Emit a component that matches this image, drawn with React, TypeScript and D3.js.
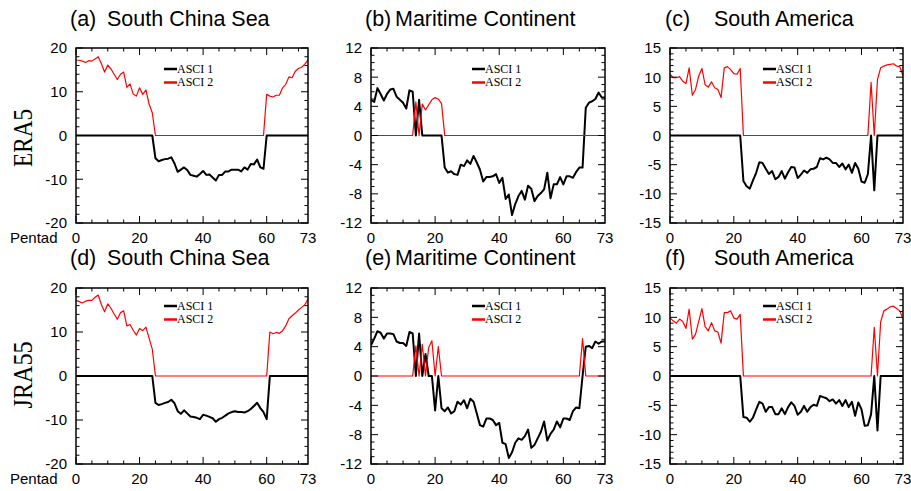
import React from 'react';
import * as d3 from 'd3';

const W = 911;
const H = 491;

// pentad index (x axis) and its labelled ticks
const pentads = d3.range(0, 74);
const xLabels = [0, 20, 40, 60, 73];
const xMajor = [0, 20, 40, 60];
const xMinor = [5, 10, 15, 25, 30, 35, 45, 50, 55, 65, 70];

// (a) ERA5 - South China Sea
const era5ScsAsci1 = [
  0, 0, 0, 0, 0, 0, 0, 0, 0, 0, 0, 0, 0, 0, 0, 0, 0, 0, 0, 0, 0, 0, 0, 0, 0,
  -5.2, -5.9, -5.6, -5.4, -5.3, -5.0, -6.4, -8.3, -7.8, -7.3, -7.9, -9.0, -9.2, -9.4, -8.8, -8.1, -9.0, -8.9,
  -9.6, -10.3, -9.0, -9.0, -8.2, -8.2, -7.8, -7.8, -7.8, -8.2, -7.3, -7.8, -6.5, -6.6, -5.5, -7.3, -7.6,
  0, 0, 0, 0, 0, 0, 0, 0, 0, 0, 0, 0, 0, 0,
];
const era5ScsAsci2 = [
  17.2, 17.2, 17.0, 16.7, 17.1, 17.0, 17.5, 18.0, 16.4, 14.5, 16.1, 15.2, 14.0, 12.8, 14.0, 14.5, 11.0,
  11.8, 9.5, 9.0, 10.9, 9.4, 10.4, 7.2, 5.2,
  0, 0, 0, 0, 0, 0, 0, 0, 0, 0, // 25-34
  0, 0, 0, 0, 0, 0, 0, 0, 0, 0, // 35-44
  0, 0, 0, 0, 0, 0, 0, 0, 0, 0, // 45-54
  0, 0, 0, 0, 0, // 55-59
  9.4, 9.0, 8.8, 9.2, 9.2, 10.9, 11.7, 13.4, 13.2, 14.7, 15.3, 15.6, 16.3, 17.3,
];

// (b) ERA5 - Maritime Continent
const era5McAsci1 = [
  4.9, 4.6, 6.5, 5.7, 4.8, 5.7, 6.3, 6.4, 5.3, 4.9, 4.5, 3.7, 6.2, 6.0,
  0, 4.9, 0, 0, 0, 0, 0, 0, 0,
  -4.4, -5.1, -4.9, -5.3, -5.4, -4.0, -4.2, -3.4, -3.9, -2.8, -3.7, -4.7, -6.3, -5.7, -5.7, -5.6, -5.3,
  -6.5, -5.8, -8.7, -8.1, -10.9, -9.4, -8.3, -7.6, -8.8, -6.9, -7.3, -9.0, -8.3, -7.9, -7.4, -5.1, -8.6,
  -6.7, -6.7, -5.7, -6.7, -5.6, -5.6, -5.8, -5.0, -4.4, -4.4, 3.8, 4.5, 4.7, 5.0, 5.9, 5.2, 5.2,
];
const era5McAsci2 = [
  0, 0, 0, 0, 0, 0, 0, 0, 0, 0, 0, 0, 0, 0, // 0-13
  4.6, 0, 4.3, 3.5, 4.2, 4.9, 5.2, 5.0, 4.4, // 14-22
  0, 0, 0, 0, 0, 0, 0, 0, 0, 0, // 23-32
  0, 0, 0, 0, 0, 0, 0, 0, 0, 0, // 33-42
  0, 0, 0, 0, 0, 0, 0, 0, 0, 0, // 43-52
  0, 0, 0, 0, 0, 0, 0, 0, 0, 0, // 53-62
  0, 0, 0, 0, 0, 0, 0, 0, 0, 0, 0, // 63-73
];

// (c) ERA5 - South America
const era5SaAsci1 = [
  0, 0, 0, 0, 0, 0, 0, 0, 0, 0, 0, 0, 0, 0, 0, 0, 0, 0, 0, 0, 0, 0, 0,
  -7.8, -8.7, -9.1, -7.7, -6.4, -4.6, -4.7, -5.7, -6.6, -6.1, -7.5, -7.1, -6.1, -7.4, -6.3, -5.4, -5.5,
  -7.3, -6.7, -6.0, -6.4, -5.8, -5.7, -5.4, -3.9, -4.1, -3.8, -4.1, -4.7, -4.7, -5.4, -4.8, -5.8, -5.0,
  -6.4, -4.7, -5.7, -7.9, -8.1, -6.6,
  0, -9.4, 0, 0, 0, 0, 0, 0, 0, 0, 0,
];
const era5SaAsci2 = [
  10.5, 9.9, 9.9, 10.1, 9.3, 8.9, 11.6, 6.9, 7.9, 10.2, 11.5, 8.7, 8.3, 9.2, 8.2, 7.9, 6.5, 11.6, 11.8,
  11.3, 10.6, 10.5, 11.5,
  0, 0, 0, 0, 0, 0, 0, 0, 0, 0, // 23-32
  0, 0, 0, 0, 0, 0, 0, 0, 0, 0, // 33-42
  0, 0, 0, 0, 0, 0, 0, 0, 0, 0, // 43-52
  0, 0, 0, 0, 0, 0, 0, 0, 0, 0, // 53-62
  9.1, 0, 9.6, 11.6, 11.9, 12.1, 12.2, 12.3, 11.9, 11.8, 10.2,
];

// (d) JRA55 - South China Sea
const jra55ScsAsci1 = [
  0, 0, 0, 0, 0, 0, 0, 0, 0, 0, 0, 0, 0, 0, 0, 0, 0, 0, 0, 0, 0, 0, 0, 0, 0,
  -6.1, -6.6, -6.4, -6.1, -5.9, -5.4, -6.2, -8.0, -8.6, -7.8, -8.5, -9.2, -9.3, -9.5, -9.8, -8.8, -9.0,
  -9.3, -9.6, -10.4, -9.8, -9.5, -9.0, -8.5, -8.2, -8.0, -8.2, -8.2, -8.3, -8.0, -7.5, -6.8, -6.1, -7.3,
  -8.2, -9.8,
  0, 0, 0, 0, 0, 0, 0, 0, 0, 0, 0, 0, 0,
];
const jra55ScsAsci2 = [
  17.2, 16.9, 16.6, 17.0, 17.2, 17.2, 17.9, 18.4, 16.2, 14.6, 16.4, 15.4, 14.1, 12.9, 14.4, 14.8, 11.4,
  11.7, 10.4, 9.3, 10.8, 10.3, 11.1, 8.6, 6.1,
  0, 0, 0, 0, 0, 0, 0, 0, 0, 0, // 25-34
  0, 0, 0, 0, 0, 0, 0, 0, 0, 0, // 35-44
  0, 0, 0, 0, 0, 0, 0, 0, 0, 0, // 45-54
  0, 0, 0, 0, 0, 0, // 55-60
  10.0, 9.6, 9.9, 9.7, 10.3, 11.4, 13.0, 13.7, 14.3, 15.0, 15.6, 16.2, 17.5,
];

// (e) JRA55 - Maritime Continent
const jra55McAsci1 = [
  4.2, 5.1, 6.1, 5.9, 5.1, 5.8, 5.8, 5.7, 4.7, 4.5, 4.5, 4.1, 6.0, 5.8,
  0, 5.8, 0, 3.0, 0, 0, -4.7, 0,
  -4.4, -4.8, -4.3, -5.1, -4.8, -3.5, -3.9, -3.3, -4.4, -3.1, -3.5, -5.1, -6.7, -6.9, -5.8, -5.8, -6.0,
  -6.7, -6.4, -9.1, -9.3, -11.2, -10.4, -9.1, -8.5, -8.7, -8.2, -7.3, -9.8, -9.4, -8.5, -7.6, -6.2, -8.8,
  -7.9, -7.3, -6.2, -7.0, -5.8, -5.8, -6.0, -4.8, -4.3, -4.4, 0, 4.0, 4.1, 3.8, 4.7, 4.4, 4.7, 4.7,
];
const jra55McAsci2 = [
  0, 0, 0, 0, 0, 0, 0, 0, 0, 0, 0, 0, 0, 0, // 0-13
  4.1, 0, 4.3, 0, 3.9, 4.8, 0, 4.0, // 14-21
  0, 0, 0, 0, 0, 0, 0, 0, 0, 0, // 22-31
  0, 0, 0, 0, 0, 0, 0, 0, 0, 0, // 32-41
  0, 0, 0, 0, 0, 0, 0, 0, 0, 0, // 42-51
  0, 0, 0, 0, 0, 0, 0, 0, 0, 0, // 52-61
  0, 0, 0, 0, // 62-65
  5.1, 0, 0, 0, 0, 0, 0, 0, // 66-73
];

// (f) JRA55 - South America
const jra55SaAsci1 = [
  0, 0, 0, 0, 0, 0, 0, 0, 0, 0, 0, 0, 0, 0, 0, 0, 0, 0, 0, 0, 0, 0, 0,
  -7.0, -7.1, -7.8, -7.1, -5.7, -4.4, -4.7, -6.1, -5.3, -5.3, -6.5, -6.5, -5.5, -6.5, -5.3, -4.5, -5.1,
  -6.6, -6.1, -5.1, -6.1, -5.3, -4.9, -5.1, -3.4, -3.6, -3.8, -4.3, -4.0, -4.7, -4.1, -5.1, -4.1, -5.3,
  -4.4, -6.8, -4.5, -5.7, -8.5, -8.4, -6.5,
  0, -9.3, 0, 0, 0, 0, 0, 0, 0, 0,
];
const jra55SaAsci2 = [
  9.9, 9.4, 9.0, 9.7, 9.3, 8.1, 11.4, 6.3, 7.1, 9.3, 11.5, 8.4, 7.7, 9.1, 7.7, 7.5, 5.6, 10.8, 10.8,
  11.1, 9.9, 9.7, 10.5,
  0, 0, 0, 0, 0, 0, 0, 0, 0, 0, // 23-32
  0, 0, 0, 0, 0, 0, 0, 0, 0, 0, // 33-42
  0, 0, 0, 0, 0, 0, 0, 0, 0, 0, // 43-52
  0, 0, 0, 0, 0, 0, 0, 0, 0, 0, 0, // 53-63
  8.3, 0, 9.2, 11.1, 11.4, 11.8, 11.9, 11.5, 11.1, 9.7,
];

const legendNames = ['ASCI 1', 'ASCI 2'];
const rowLabels = ['ERA5', 'JRA55'];

// panel frames in page pixels
const cols = [
  { x0: 76, x1: 308, tagDx: -6, nameDx: 31, legDx: 88 },
  { x0: 371, x1: 605, tagDx: -6, nameDx: 24, legDx: 101 },
  { x0: 670, x1: 903, tagDx: -5, nameDx: 44, legDx: 93 },
];
const rows = [
  { y0: 48, y1: 223, titleY: 26, legDy: 21, labelY: 138 },
  { y0: 288, y1: 464, titleY: 265, legDy: 18, labelY: 375 },
];

const panels = [
  { tag: '(a)', name: 'South China Sea', a1: era5ScsAsci1, a2: era5ScsAsci2, yMax: 20, yStep: 10, yMinor: 2, row: 0, col: 0 },
  { tag: '(b)', name: 'Maritime Continent', a1: era5McAsci1, a2: era5McAsci2, yMax: 12, yStep: 4, yMinor: 1, row: 0, col: 1 },
  { tag: '(c)', name: 'South America', a1: era5SaAsci1, a2: era5SaAsci2, yMax: 15, yStep: 5, yMinor: 1, row: 0, col: 2 },
  { tag: '(d)', name: 'South China Sea', a1: jra55ScsAsci1, a2: jra55ScsAsci2, yMax: 20, yStep: 10, yMinor: 2, row: 1, col: 0 },
  { tag: '(e)', name: 'Maritime Continent', a1: jra55McAsci1, a2: jra55McAsci2, yMax: 12, yStep: 4, yMinor: 1, row: 1, col: 1 },
  { tag: '(f)', name: 'South America', a1: jra55SaAsci1, a2: jra55SaAsci2, yMax: 15, yStep: 5, yMinor: 1, row: 1, col: 2 },
];

const SANS = '"Liberation Sans", Arial, Helvetica, sans-serif';
const SERIF = '"Liberation Serif", "Times New Roman", serif';

const Panel = ({ p, idx }) => {
  const c = cols[p.col];
  const r = rows[p.row];
  const x = d3.scaleLinear().domain([0, 73]).range([c.x0, c.x1]);
  const y = d3.scaleLinear().domain([-p.yMax, p.yMax]).range([r.y1, r.y0]);
  const line = d3.line<number>().x((_, i) => x(pentads[i])).y(d => y(d));

  const yMajor = d3.range(-p.yMax, p.yMax + 0.001, p.yStep);
  const yMinor = d3.range(-p.yMax, p.yMax + 0.001, p.yMinor).filter(v => !yMajor.includes(v));
  const MAJ = 7;
  const MIN = 3.5;

  const lx = c.x0 + c.legDx;
  const ly = r.y0 + r.legDy;
  const clipId = 'clip' + idx;

  return (
    <g>
      <defs>
        <clipPath id={clipId}>
          <rect x={c.x0} y={r.y0 - 2} width={c.x1 - c.x0} height={r.y1 - r.y0 + 4} />
        </clipPath>
      </defs>
      <text x={c.x0 + c.tagDx} y={r.titleY} fontFamily={SANS} fontSize={21.5}>{p.tag}</text>
      <text x={c.x0 + c.nameDx} y={r.titleY} fontFamily={SANS} fontSize={21.5}>{p.name}</text>

      <g clipPath={`url(#${clipId})`}>
        <path d={line(p.a1) || ''} fill="none" stroke="#000" strokeWidth={2} strokeLinejoin="round" />
        <path d={line(p.a2) || ''} fill="none" stroke="#ff0000" strokeWidth={1.2} strokeLinejoin="round" />
      </g>

      {/* ticks on all four sides, pointing in */}
      <g stroke="#000" strokeWidth={1}>
        {yMajor.map(v => (
          <g key={'ym' + v}>
            <line x1={c.x0} x2={c.x0 + MAJ} y1={y(v)} y2={y(v)} />
            <line x1={c.x1} x2={c.x1 - MAJ} y1={y(v)} y2={y(v)} />
          </g>
        ))}
        {yMinor.map(v => (
          <g key={'yn' + v}>
            <line x1={c.x0} x2={c.x0 + MIN} y1={y(v)} y2={y(v)} />
            <line x1={c.x1} x2={c.x1 - MIN} y1={y(v)} y2={y(v)} />
          </g>
        ))}
        {xMajor.map(v => (
          <g key={'xm' + v}>
            <line x1={x(v)} x2={x(v)} y1={r.y1} y2={r.y1 - MAJ} />
            <line x1={x(v)} x2={x(v)} y1={r.y0} y2={r.y0 + MAJ} />
          </g>
        ))}
        {xMinor.map(v => (
          <g key={'xn' + v}>
            <line x1={x(v)} x2={x(v)} y1={r.y1} y2={r.y1 - MIN} />
            <line x1={x(v)} x2={x(v)} y1={r.y0} y2={r.y0 + MIN} />
          </g>
        ))}
      </g>
      <rect x={c.x0} y={r.y0} width={c.x1 - c.x0} height={r.y1 - r.y0} fill="none" stroke="#000" strokeWidth={1.5} />

      {yMajor.map(v => (
        <text key={'yl' + v} x={c.x0 - 9} y={y(v)} dy="0.36em" textAnchor="end" fontFamily={SANS} fontSize={15}>
          {String(v)}
        </text>
      ))}
      {xLabels.map(v => (
        <text key={'xl' + v} x={x(v)} y={r.y1 + 19.5} textAnchor="middle" fontFamily={SANS} fontSize={15}>
          {v}
        </text>
      ))}
      {p.col === 0 && (
        <text x={10} y={r.y1 + 19.5} fontFamily={SANS} fontSize={15}>Pentad</text>
      )}

      {legendNames.map((n, i) => (
        <g key={n}>
          <line x1={lx} x2={lx + 13} y1={ly + i * 13.5} y2={ly + i * 13.5}
            stroke={i === 0 ? '#000' : '#ff0000'} strokeWidth={2.5} />
          <text x={lx + 13} y={ly + i * 13.5} dy="0.33em" fontFamily={SERIF} fontSize={12}>{n}</text>
        </g>
      ))}
    </g>
  );
};

export default function App() {
  return (
    <svg width={W} height={H} style={{ display: 'block', position: 'absolute', left: 0, top: 0, background: '#fff' }}>
      <rect width={W} height={H} fill="#fff" />
      {panels.map((p, i) => <Panel key={p.tag} p={p} idx={i} />)}
      {rowLabels.map((l, i) => (
        <text key={l} transform={`translate(32,${rows[i].labelY}) rotate(-90)`} textAnchor="middle"
          fontFamily={SERIF} fontSize={27} textLength={i === 0 ? 58 : 67} lengthAdjust="spacingAndGlyphs">
          {l}
        </text>
      ))}
    </svg>
  );
}
